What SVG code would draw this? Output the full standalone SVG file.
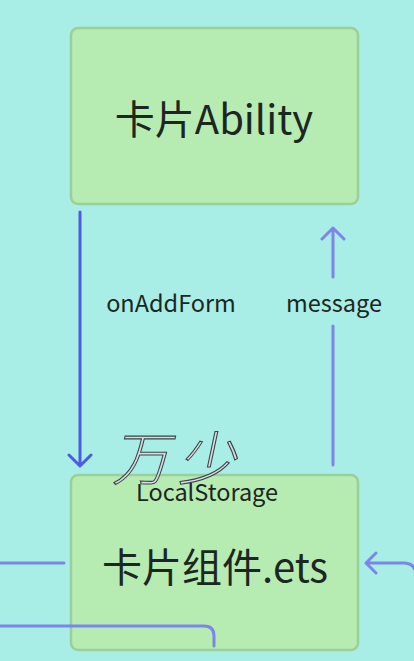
<svg xmlns="http://www.w3.org/2000/svg" width="414" height="661" viewBox="0 0 414 661">
<style>
.node rect{fill:#b6ecb1;stroke:#9ccf95;stroke-width:2.5}
.t{font-family:"Noto Sans CJK SC","Noto Sans",sans-serif;fill:#1c2622}
.big{font-size:40px}
.lbl{font-size:23.5px}
.c1{fill:none;stroke:#4b5be6;stroke-width:3;stroke-linecap:round;stroke-linejoin:round}
.c2{fill:none;stroke:#7d86e8;stroke-width:3;stroke-linecap:round;stroke-linejoin:round}
.wm{font-family:"Noto Sans CJK SC",sans-serif;font-size:58px;font-weight:300;letter-spacing:8px;fill:#d9dee2;stroke:#3c4348;stroke-width:1.1}
</style>
<rect width="414" height="661" fill="#a9eee6"/>
<g id="ability" class="node">
<rect x="71" y="28" width="287" height="176" rx="7"/>
<text class="t big" x="214" y="134" text-anchor="middle">卡片Ability</text>
</g>
<g id="component" class="node">
<rect x="71" y="475" width="287" height="175" rx="7"/>
<text class="t big" x="215" y="582" text-anchor="middle">卡片组件.ets</text>
<text class="t lbl" x="207" y="501" text-anchor="middle">LocalStorage</text>
</g>
<g id="connectors">
<path class="c1" d="M80 212 V466 M69 455 L80 466 L91 455"/>
<path class="c2" d="M333 465 V326 M333 277 V228 M322 239 L333 228 L344 239"/>
<path class="c2" d="M0 563 H64"/>
<path class="c2" d="M0 626 H204 Q214 626 214 636 V646"/>
<path class="c2" d="M366 563 H404 Q414 563 416 573 M376 553 L366 563 L376 573"/>
</g>
<g id="labels">
<text class="t lbl" x="171" y="312" text-anchor="middle">onAddForm</text>
<text class="t lbl" x="334" y="312" text-anchor="middle">message</text>
</g>
<text class="wm" x="112" y="480" transform="skewX(-12)" transform-origin="112 480">万少</text>
</svg>
